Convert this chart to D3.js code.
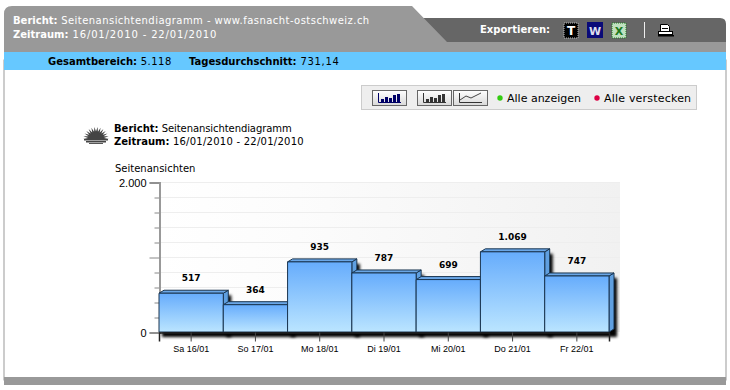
<!DOCTYPE html>
<html>
<head>
<meta charset="utf-8">
<script src="https://cdn.jsdelivr.net/npm/d3@7"></script>
<style>
  html, body { margin: 0; padding: 0; background: #fff; }
  svg { display: block; font-family: Verdana, "DejaVu Sans", sans-serif; }
  text { fill: #000; }
</style>
</head>
<body>
<svg id="chart" width="730" height="390"></svg>
<script>
// Chart data
const days = ["Sa 16/01", "So 17/01", "Mo 18/01", "Di 19/01", "Mi 20/01", "Do 21/01", "Fr 22/01"]
const views = [517, 364, 935, 787, 699, 1069, 747]
const yMajorTicks = [0, 1000, 2000]
const yMinorTicks = [200, 400, 600, 800, 1200, 1400, 1600, 1800]
const yLabelled = [0, 2000]

const svg = d3.select("#chart")
const de = d3.formatLocale({decimal: ",", thousands: ".", grouping: [3], currency: ["", " €"]})
const fmt = de.format(",d")

const x = d3.scaleBand().domain(days).range([159, 609]).padding(0)
const y = d3.scaleLinear().domain([0, 2000]).range([332, 182])

const defs = svg.append("defs")

const barGrad = defs.append("linearGradient").attr("id", "barGrad").attr("x1", 0).attr("y1", 0).attr("x2", 0).attr("y2", 1)
barGrad.append("stop").attr("offset", "0%").attr("stop-color", "#66acfc")
barGrad.append("stop").attr("offset", "100%").attr("stop-color", "#bbe5ff")

const plotGrad = defs.append("linearGradient").attr("id", "plotGrad")
plotGrad.append("stop").attr("offset", "0%").attr("stop-color", "#ffffff")
plotGrad.append("stop").attr("offset", "30%").attr("stop-color", "#fcfcfc")
plotGrad.append("stop").attr("offset", "100%").attr("stop-color", "#f1f1f1")

const btnGrad = defs.append("linearGradient").attr("id", "btnGrad").attr("x1", 0).attr("y1", 0).attr("x2", 0).attr("y2", 1)
btnGrad.append("stop").attr("offset", "0%").attr("stop-color", "#ffffff")
btnGrad.append("stop").attr("offset", "100%").attr("stop-color", "#d8d8d8")

defs.append("filter").attr("id", "blur").attr("x", "-20%").attr("y", "-20%").attr("width", "140%").attr("height", "140%")
  .append("feGaussianBlur").attr("stdDeviation", 1.4)

// Page frame
const frame = svg.append("g")
frame.append("rect").attr("x", 4).attr("y", 60).attr("width", 722).attr("height", 320)
  .attr("fill", "#fff").attr("stroke", "#999")
frame.append("path").attr("fill", "#666")
  .attr("d", "M400,18 H720 Q726,18 726,24 V42 H400 Z")
frame.append("path").attr("fill", "#999")
  .attr("d", "M4,52 V14 Q4,6 12,6 H412 L447,42 H726 V52 Z")
frame.append("rect").attr("x", 4).attr("y", 52).attr("width", 722).attr("height", 18).attr("fill", "#66c8ff")
frame.append("rect").attr("x", 4).attr("y", 377).attr("width", 722).attr("height", 8).attr("fill", "#999")

const label = (g, px, py, bold, plain, color, spacing = 0) => {
  const t = g.append("text").attr("x", px).attr("y", py).attr("font-size", 10).style("fill", color)
  t.append("tspan").attr("font-weight", "bold").text(bold)
  t.append("tspan").attr("letter-spacing", spacing).text(plain)
  return t
}

label(svg, 13, 24, "Bericht:", " Seitenansichtendiagramm - www.fasnacht-ostschweiz.ch", "#fff", 0.45)
label(svg, 13, 38, "Zeitraum:", " 16/01/2010 - 22/01/2010", "#fff", 0.85)
label(svg, 48, 65, "Gesamtbereich:", " 5.118", "#000", 0.5)
label(svg, 189, 65, "Tagesdurchschnitt:", " 731,14", "#000", 0.7)
label(svg, 480, 33, "Exportieren:", "", "#fff")

// Export icons
const icons = svg.append("g")
icons.append("rect").attr("x", 564).attr("y", 23).attr("width", 14).attr("height", 15).attr("fill", "#000").attr("stroke", "#bbb").attr("stroke-dasharray", "1 1")
icons.append("text").attr("x", 571).attr("y", 35).attr("text-anchor", "middle").attr("font-size", 12).attr("font-weight", "bold").style("fill", "#fff").text("T")
icons.append("rect").attr("x", 587).attr("y", 22).attr("width", 16).attr("height", 16).attr("fill", "#0a0a78")
icons.append("text").attr("x", 595).attr("y", 35).attr("text-anchor", "middle").attr("font-size", 11).attr("font-weight", "bold").style("fill", "#dde").text("W")
icons.append("rect").attr("x", 612).attr("y", 23).attr("width", 14).attr("height", 15).attr("fill", "#bfe0bf").attr("stroke", "#1e7a1e").attr("stroke-dasharray", "1 1")
icons.append("text").attr("x", 619).attr("y", 35).attr("text-anchor", "middle").attr("font-size", 11).attr("font-weight", "bold").style("fill", "#1e7a1e").text("X")
icons.append("line").attr("x1", 644.5).attr("x2", 644.5).attr("y1", 22).attr("y2", 38).attr("stroke", "#eee")
// Printer
icons.append("path").attr("fill", "#fff").attr("stroke", "#000").attr("d", "M660.5,24.5 H667.5 L669.5,26.5 V31.5 H660.5 Z")
icons.append("line").attr("x1", 662).attr("x2", 668).attr("y1", 28.5).attr("y2", 28.5).attr("stroke", "#000")
icons.append("rect").attr("x", 658.5).attr("y", 31.5).attr("width", 14).attr("height", 3).attr("fill", "#fff").attr("stroke", "#000")
icons.append("rect").attr("x", 658).attr("y", 35).attr("width", 16).attr("height", 1.5).attr("fill", "#000")

// Toolbar
const bar = svg.append("g")
bar.append("rect").attr("x", 361.5).attr("y", 85.5).attr("width", 335).attr("height", 24).attr("fill", "#eee").attr("stroke", "#ccc")
const miniBars = [3, 5, 4, 7, 8]
const buttons = [[372, "#006", true], [417, "#333", true], [453, "#333", false]]
buttons.forEach(([bx, col, isBar]) => {
  const b = bar.append("g")
  b.append("rect").attr("x", bx + 0.5).attr("y", 90.5).attr("width", 34).attr("height", 15).attr("fill", "url(#btnGrad)").attr("stroke", "#666")
  b.append("path").attr("fill", "none").attr("stroke", col).attr("d", `M${bx + 6.5},93 V102.5 H${bx + 29}`)
  if (isBar) {
    miniBars.forEach((h, i) => {
      b.append("rect").attr("x", bx + 9 + i * 4).attr("y", 102 - h).attr("width", 3).attr("height", h).attr("fill", col)
    })
  } else {
    b.append("path").attr("fill", "none").attr("stroke", "#444").attr("d", `M${bx + 7},100 L${bx + 13},96 L${bx + 18},98 L${bx + 28},93`)
  }
})
bar.append("circle").attr("cx", 500).attr("cy", 98).attr("r", 2.7).attr("fill", "#33cc11")
bar.append("text").attr("x", 507).attr("y", 102).attr("font-size", 11).text("Alle anzeigen")
bar.append("circle").attr("cx", 597).attr("cy", 98).attr("r", 2.7).attr("fill", "#dd0044")
bar.append("text").attr("x", 604).attr("y", 102).attr("font-size", 11).attr("letter-spacing", 0.2).text("Alle verstecken")

// Sun icon next to the chart title
const spikes = d3.range(0, 27).map(i => {
  const a = Math.PI * i / 26
  const r = i % 2 === 0 ? 1 : 0.62
  return [96 + 13 * r * Math.cos(a), 139 - 12 * r * Math.sin(a)]
})
svg.append("path").attr("fill", "#444").attr("d", d3.line()(spikes) + "Z")
svg.append("rect").attr("x", 84).attr("y", 139).attr("width", 24).attr("height", 1.5).attr("fill", "#444")
svg.append("rect").attr("x", 86).attr("y", 141).attr("width", 20).attr("height", 1.5).attr("fill", "#444")
svg.append("rect").attr("x", 89).attr("y", 143).attr("width", 14).attr("height", 1).attr("fill", "#555")

label(svg, 114, 132, "Bericht:", " Seitenansichtendiagramm", "#000", -0.08)
label(svg, 114, 145, "Zeitraum:", " 16/01/2010 - 22/01/2010", "#000", 0.25)
svg.append("text").attr("x", 115).attr("y", 172).attr("font-size", 10).text("Seitenansichten")

// Plot area
svg.append("rect").attr("x", 159).attr("y", 182).attr("width", 461).attr("height", 150).attr("fill", "url(#plotGrad)")
svg.append("g").selectAll("line").data(yMajorTicks.concat(yMinorTicks).filter(d => d > 0)).join("line")
  .attr("x1", 159).attr("x2", 620)
  .attr("y1", d => y(d) + 0.5).attr("y2", d => y(d) + 0.5)
  .attr("stroke", "#eeeeee")

// Y axis
const yMinor = svg.append("g").attr("transform", "translate(159.5,0.5)")
  .call(d3.axisLeft(y).tickValues(yMinorTicks).tickSize(5).tickFormat(""))
const yMajor = svg.append("g").attr("transform", "translate(159.5,0.5)")
  .call(d3.axisLeft(y).tickValues(yMajorTicks).tickSize(10).tickPadding(3)
    .tickFormat(d => yLabelled.includes(d) ? fmt(d) : ""))
yMajor.selectAll("text").attr("font-size", 11).attr("font-family", null)
for (const g of [yMinor, yMajor]) {
  g.selectAll(".domain").attr("stroke", "#999").attr("stroke-width", 2)
  g.selectAll(".tick line").attr("stroke", "#888")
}

// Shadows under the bars
svg.append("g").selectAll("rect").data(views).join("rect")
  .attr("x", (d, i) => x(days[i]) + 3)
  .attr("y", d => y(d) + 2)
  .attr("width", x.bandwidth() + 5)
  .attr("height", d => y(0) - y(d) + 3)
  .attr("fill", "#000")
  .attr("filter", "url(#blur)")

// Bars with their top and side faces
const depthX = 5, depthY = 3
const bars = svg.append("g").selectAll("g").data(views).join("g")
  .attr("stroke", "#1a3550").attr("stroke-linejoin", "round")
bars.append("path")
  .attr("fill", "#5f9fe0")
  .attr("d", (d, i) => {
    const r = x(days[i]) + x.bandwidth()
    return `M${r},${y(d)} l${depthX},${-depthY} V${y(0) - depthY} L${r},${y(0)} Z`
  })
bars.append("path")
  .attr("fill", "#6aa6e6")
  .attr("d", (d, i) => {
    const l = x(days[i]), r = l + x.bandwidth()
    return `M${l},${y(d)} l${depthX},${-depthY} H${r + depthX} L${r},${y(d)} Z`
  })
bars.append("rect")
  .attr("x", (d, i) => x(days[i]))
  .attr("y", d => y(d))
  .attr("width", x.bandwidth())
  .attr("height", d => y(0) - y(d))
  .attr("fill", "url(#barGrad)")

// Value labels
svg.append("g").selectAll("text").data(views).join("text")
  .attr("x", (d, i) => x(days[i]) + x.bandwidth() / 2)
  .attr("y", d => y(d) - 12)
  .attr("text-anchor", "middle")
  .attr("font-size", 9)
  .attr("font-weight", "bold")
  .text(fmt)

// X axis
const xAxis = svg.append("g").attr("transform", "translate(0,332.5)")
  .call(d3.axisBottom(x).tickSizeOuter(0).tickSize(9).tickPadding(4))
xAxis.select(".domain").attr("stroke", "#222").attr("stroke-width", 1.5)
xAxis.selectAll(".tick line").attr("stroke", "#444")
xAxis.selectAll("text").attr("font-size", 9).attr("font-family", null)
</script>
</body>
</html>
